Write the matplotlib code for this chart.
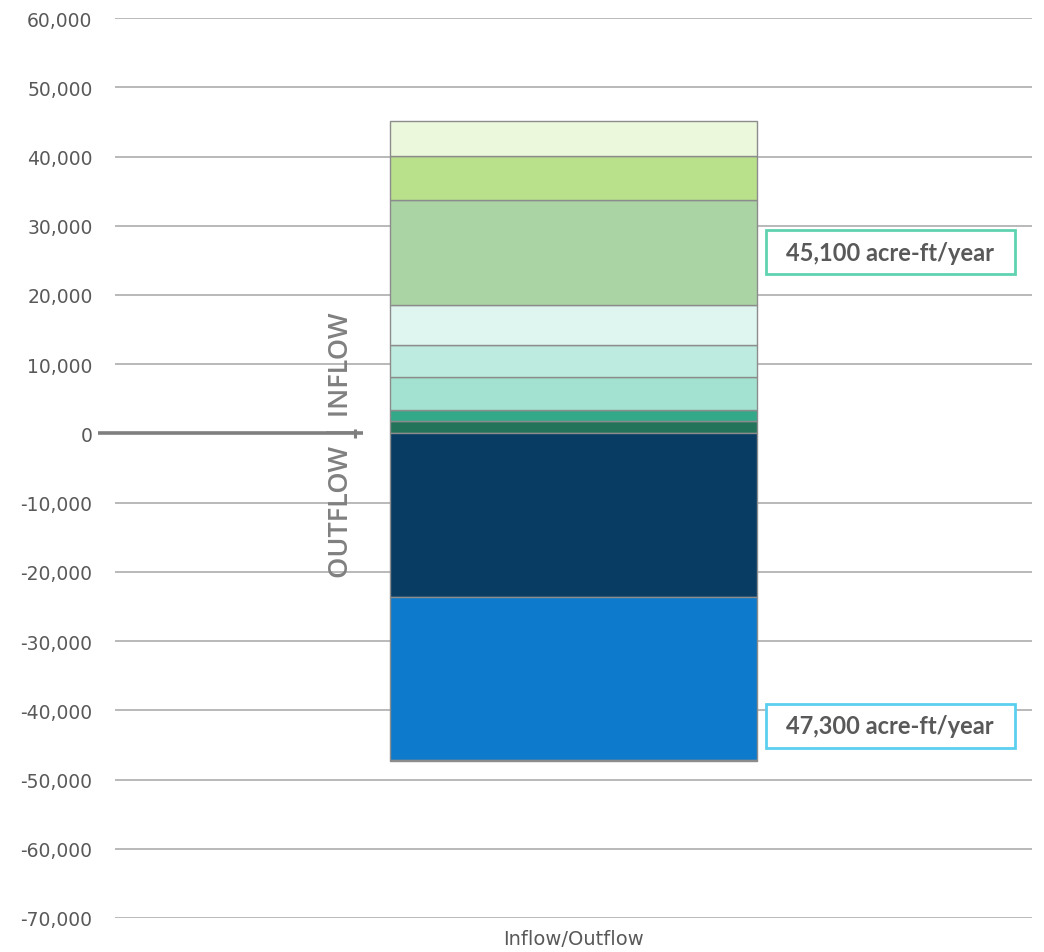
import matplotlib
matplotlib.use("Agg")
import matplotlib.pyplot as plt
import matplotlib.transforms as mtransforms
from matplotlib.patches import Rectangle

# ---- data ----
category = ["Inflow/Outflow"]
inflow_values = [1750, 1630, 4720, 4720, 5730, 15210, 6270, 5070]
inflow_colors = ["#23735A", "#33A98A", "#A3E2D0", "#BDEBDF", "#DFF5EF",
                 "#ABD4A5", "#B9E08A", "#EBF8DC"]
outflow_values = [23700, 23500, 100]
outflow_colors = ["#083C63", "#0D7ACB", "#E07B2B"]
yticks = list(range(60000, -70001, -10000))
inflow_total_label = "45,100 acre-ft/year"
outflow_total_label = "47,300 acre-ft/year"

grey_text = "#595959"

fig = plt.figure(figsize=(10.44, 9.53), dpi=100)
ax = fig.add_axes([0.110, 0.0357, 0.8785, 0.9443])

x = [0]
bottom = 0
for v, c in zip(inflow_values, inflow_colors):
    ax.bar(x, [v], bottom=bottom, width=0.4, color=c, edgecolor="#8C8C8C",
           linewidth=1, zorder=3)
    bottom += v
bottom = 0
for v, c in zip(outflow_values, outflow_colors):
    ax.bar(x, [-v], bottom=bottom, width=0.4, color=c, edgecolor="#8C8C8C",
           linewidth=1, zorder=3)
    bottom -= v

ax.set_xlim(-0.5, 0.5)
ax.set_ylim(-70000, 60000)
ax.set_yticks(yticks)
ax.set_yticklabels([f"{t:,}" for t in yticks], fontfamily="DejaVu Sans",
                   fontsize=13.5, color=grey_text)
ax.set_xticks(x)
ax.set_xticklabels(category, fontfamily="DejaVu Sans", fontsize=14, color=grey_text)
ax.tick_params(axis="both", length=0)
ax.tick_params(axis="y", pad=16)
ax.tick_params(axis="x", pad=8)
for s in ax.spines.values():
    s.set_visible(False)

for t in yticks:
    if t != 0:
        ax.axhline(t, color="#A6A6A6", linewidth=1.1, zorder=1)

# zero line segment on the left
trans = mtransforms.blended_transform_factory(ax.transAxes, ax.transData)
ax.plot([-0.0185, 0.2705], [0, 0], transform=trans, color="#7F7F7F",
        linewidth=2.6, clip_on=False, zorder=2, solid_capstyle="butt")
ax.plot([0.2617, 0.2617], [-650, 650], transform=trans, color="#7F7F7F",
        linewidth=2.2, clip_on=False, zorder=2, solid_capstyle="butt")

# OUTFLOW | INFLOW label
ax.text(0.2465, -1600, "OUTFLOW | INFLOW", transform=trans, rotation=90,
        ha="center", va="center", fontsize=19.5, color="#808080",
        fontfamily="Open Sans", fontweight="semibold", zorder=4)

# total boxes
boxes = [(inflow_total_label, 26200, 23025, 29380, "#5FD3B0"),
         (outflow_total_label, -42265, -45440, -39090, "#5BCFF0")]
for label, yc, y0, y1, ec in boxes:
    ax.add_patch(Rectangle((0.710, y0), 0.271, y1 - y0, transform=trans,
                           facecolor="white", edgecolor=ec, linewidth=2,
                           clip_on=False, zorder=4))
    ax.text(0.8455, yc, label, transform=trans, ha="center", va="center",
            fontsize=17, fontweight="bold", color=grey_text,
            fontfamily="Lato", zorder=5)

fig.savefig("out.png", dpi=100, facecolor="white")
